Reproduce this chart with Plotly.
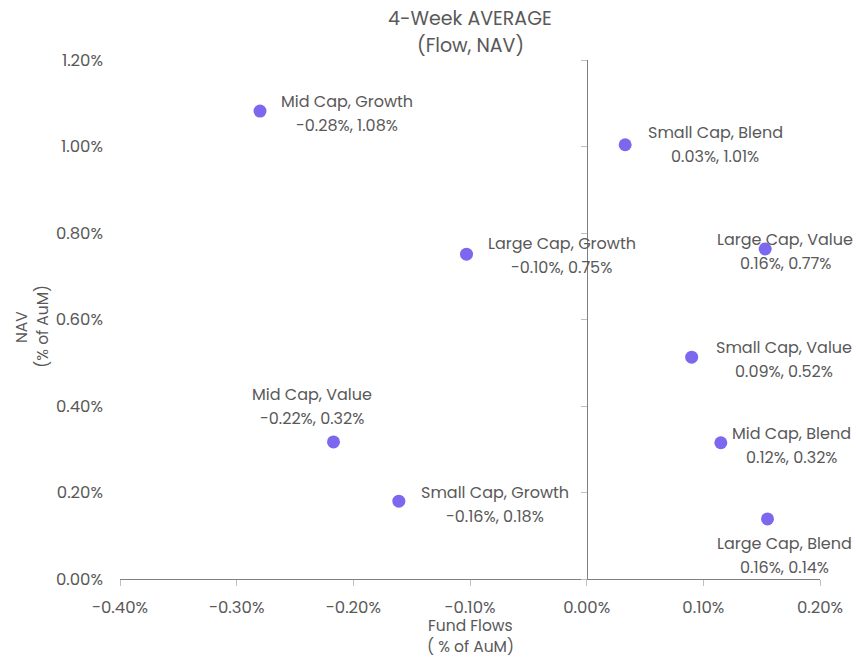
import plotly.graph_objects as go

categories = ["Mid Cap, Growth", "Small Cap, Blend", "Large Cap, Growth", "Large Cap, Value",
              "Small Cap, Value", "Mid Cap, Value", "Mid Cap, Blend", "Small Cap, Growth",
              "Large Cap, Blend"]
fund_flows = [-0.280, 0.033, -0.103, 0.153, 0.090, -0.217, 0.115, -0.161, 0.155]
nav = [1.082, 1.004, 0.751, 0.763, 0.513, 0.317, 0.315, 0.180, 0.139]
value_labels = ["-0.28%, 1.08%", "0.03%, 1.01%", "-0.10%, 0.75%", "0.16%, 0.77%",
                "0.09%, 0.52%", "-0.22%, 0.32%", "0.12%, 0.32%", "-0.16%, 0.18%",
                "0.16%, 0.14%"]
x_ticks = [-0.4, -0.3, -0.2, -0.1, 0.0, 0.1, 0.2]
x_tick_labels = ["-0.40%", "-0.30%", "-0.20%", "-0.10%", "0.00%", "0.10%", "0.20%"]
y_ticks = [0.0, 0.2, 0.4, 0.6, 0.8, 1.0, 1.2]
y_tick_labels = ["0.00%", "0.20%", "0.40%", "0.60%", "0.80%", "1.00%", "1.20%"]
title_lines = ["4-Week AVERAGE", "(Flow, NAV)"]
x_title_lines = ["Fund Flows", "( % of AuM)"]
y_title_lines = ["NAV", "(% of AuM)"]

# label offsets of label centre from point, pixels (style only); dy positive = down
label_dx = [87, 90, 95, 20, 92, -22, 71, 96, 17]
label_dy = [2, 0, 1, 2, 2, -35, 3, 3, 37]
LINE_GAP = 12

FONT = "Poppins, Noto Sans, sans-serif"
TXT = "#595959"
MARK = "#7B68EE"

fig = go.Figure()
fig.add_trace(go.Scatter(
    x=fund_flows, y=nav, mode="markers",
    marker=dict(color=MARK, size=13),
    hoverinfo="skip", showlegend=False,
))
# invisible trace to host the crossing axis at x=0
fig.add_trace(go.Scatter(x=[fund_flows[0]], y=[nav[0]], yaxis="y2", mode="markers",
                         marker=dict(opacity=0), showlegend=False, hoverinfo="skip"))

lab_font = dict(family=FONT, size=16, color=TXT)
for cat, xv, yv, vl, dx, dy in zip(categories, fund_flows, nav, value_labels, label_dx, label_dy):
    fig.add_annotation(x=xv, y=yv, text=cat, showarrow=False, xanchor="center",
                       yanchor="middle", xshift=dx, yshift=-(dy - LINE_GAP), font=lab_font)
    fig.add_annotation(x=xv, y=yv, text=vl, showarrow=False, xanchor="center",
                       yanchor="middle", xshift=dx, yshift=-(dy + LINE_GAP), font=lab_font)

# title (two lines)
for txt, yp in zip(title_lines, [1.079, 1.027]):
    fig.add_annotation(xref="paper", yref="paper", x=0.5, y=yp, text=txt, showarrow=False,
                       xanchor="center", yanchor="middle", font=dict(family=FONT, size=19, color=TXT))
# x axis title
for txt, yp in zip(x_title_lines, [-0.089, -0.131]):
    fig.add_annotation(xref="paper", yref="paper", x=0.5, y=yp, text=txt, showarrow=False,
                       xanchor="center", yanchor="middle", font=dict(family=FONT, size=15.5, color=TXT))
# y axis title
for txt, xp in zip(y_title_lines, [-0.141, -0.11]):
    fig.add_annotation(xref="paper", yref="paper", x=xp, y=0.486, text=txt, showarrow=False,
                       textangle=-90, xanchor="center", yanchor="middle",
                       font=dict(family=FONT, size=15.5, color=TXT))

fig.update_layout(
    width=856, height=657,
    margin=dict(l=120, r=36, t=60, b=78),
    plot_bgcolor="white", paper_bgcolor="white",
    font=dict(family=FONT, color=TXT, size=16),
    xaxis=dict(range=[-0.4, 0.2], tickvals=x_ticks, ticktext=x_tick_labels,
               showgrid=False, zeroline=False, showline=True, linecolor="#808080",
               linewidth=1, ticks="outside", ticklen=6, tickcolor="#bfbfbf",
               tickfont=dict(size=16.5, color=TXT), ticklabelstandoff=7,
               automargin=False),
    yaxis=dict(range=[0, 1.2], tickvals=y_ticks, ticktext=y_tick_labels,
               showgrid=False, zeroline=False, showline=False, ticks="",
               tickfont=dict(size=16.5, color=TXT), ticklabelstandoff=16,
               automargin=False),
    yaxis2=dict(range=[0, 1.2], overlaying="y", anchor="free", position=0.6667,
                side="left", tickvals=y_ticks, showticklabels=False,
                showgrid=False, zeroline=False, showline=True, linecolor="#808080",
                linewidth=1, ticks="outside", ticklen=6, tickcolor="#bfbfbf",
                automargin=False),
)

# remove the default page margin so the 856x657 figure fills the window exactly
fig.write_html("out.html", config={"displayModeBar": False},
               post_script="document.body.style.margin='0';document.body.style.overflow='hidden';")
